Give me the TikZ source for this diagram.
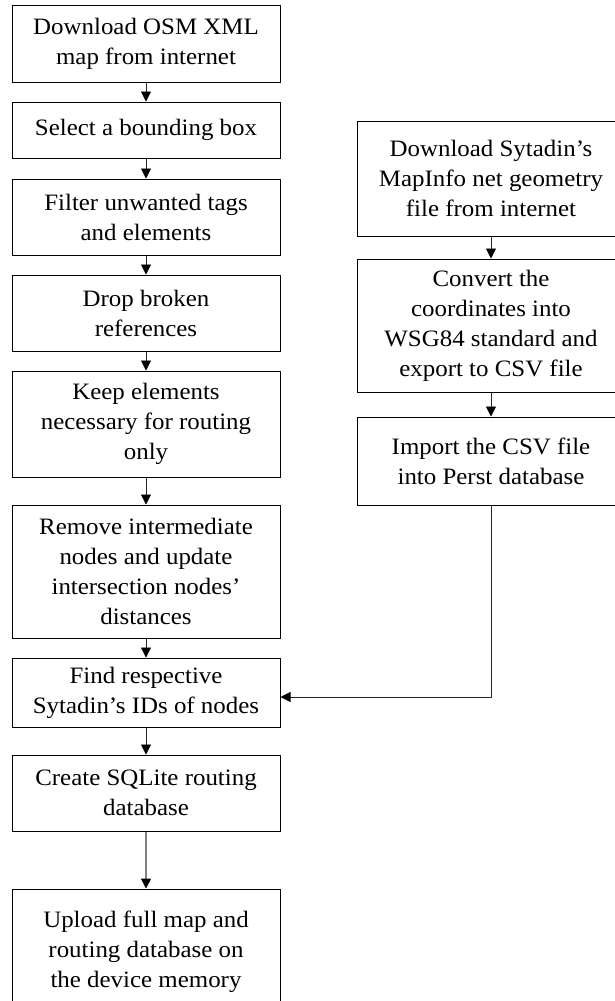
\documentclass[tikz,border=0pt]{standalone}
\usepackage{fontspec}
\setmainfont{Liberation Serif}[FakeStretch=1.06]
\usetikzlibrary{arrows.meta}
\begin{document}
\begin{tikzpicture}[x=1pt,y=-1pt,
  box/.style={draw=black,line width=1pt,minimum width=268pt,inner sep=0pt,align=center,
    font=\fontsize{23.5}{30}\selectfont},
  arr/.style={-{Triangle[width=10pt,length=10pt,color=black]},line width=0.8pt,draw=black!85}]
\useasboundingbox (0,0) rectangle (615,1001);
\clip (0,0) rectangle (615,1001);
\fill[white] (0,0) rectangle (615,1001);
% left column
\node[box,minimum height=77pt]  (b1) at (146,43.5) {Download OSM XML\\map from internet};
\node[box,minimum height=56pt]  (b2) at (146,130) {Select a bounding box};
\node[box,minimum height=76pt]  (b3) at (146,217) {Filter unwanted tags\\and elements};
\node[box,minimum height=76pt]  (b4) at (146,313) {Drop broken\\references};
\node[box,minimum height=106pt] (b5) at (146,424) {Keep elements\\necessary for routing\\only};
\node[box,minimum height=133pt] (b6) at (146,571.5) {Remove intermediate\\nodes and update\\intersection nodes’\\distances};
\node[box,minimum height=69pt]  (b7) at (146,692.5) {Find respective\\Sytadin’s IDs of nodes};
\node[box,minimum height=76pt]  (b8) at (146,793) {Create SQLite routing\\database};
\node[box,minimum height=126pt] (b9) at (146,952) {Upload full map and\\routing database on\\the device memory};
% right column
\node[box,minimum height=115pt] (r1) at (491,178.5) {Download Sytadin’s\\MapInfo net geometry\\file from internet};
\node[box,minimum height=133pt] (r2) at (491,325.5) {Convert the\\coordinates into\\WSG84 standard and\\export to CSV file};
\node[box,minimum height=88pt]  (r3) at (491,461) {Import the CSV file\\into Perst database};
% connectors
\draw[arr] (b1) -- (b2);
\draw[arr] (b2) -- (b3);
\draw[arr] (b3) -- (b4);
\draw[arr] (b4) -- (b5);
\draw[arr] (b5) -- (b6);
\draw[arr] (b6) -- (b7);
\draw[arr] (b7) -- (b8);
\draw[arr,line width=1.5pt,draw=black!50] (b8) -- (b9);
\draw[arr] (r1) -- (r2);
\draw[arr] (r2) -- (r3);
\draw[arr] (r3.south) |- ([yshift=-4.5pt]b7.east);
\end{tikzpicture}
\end{document}
